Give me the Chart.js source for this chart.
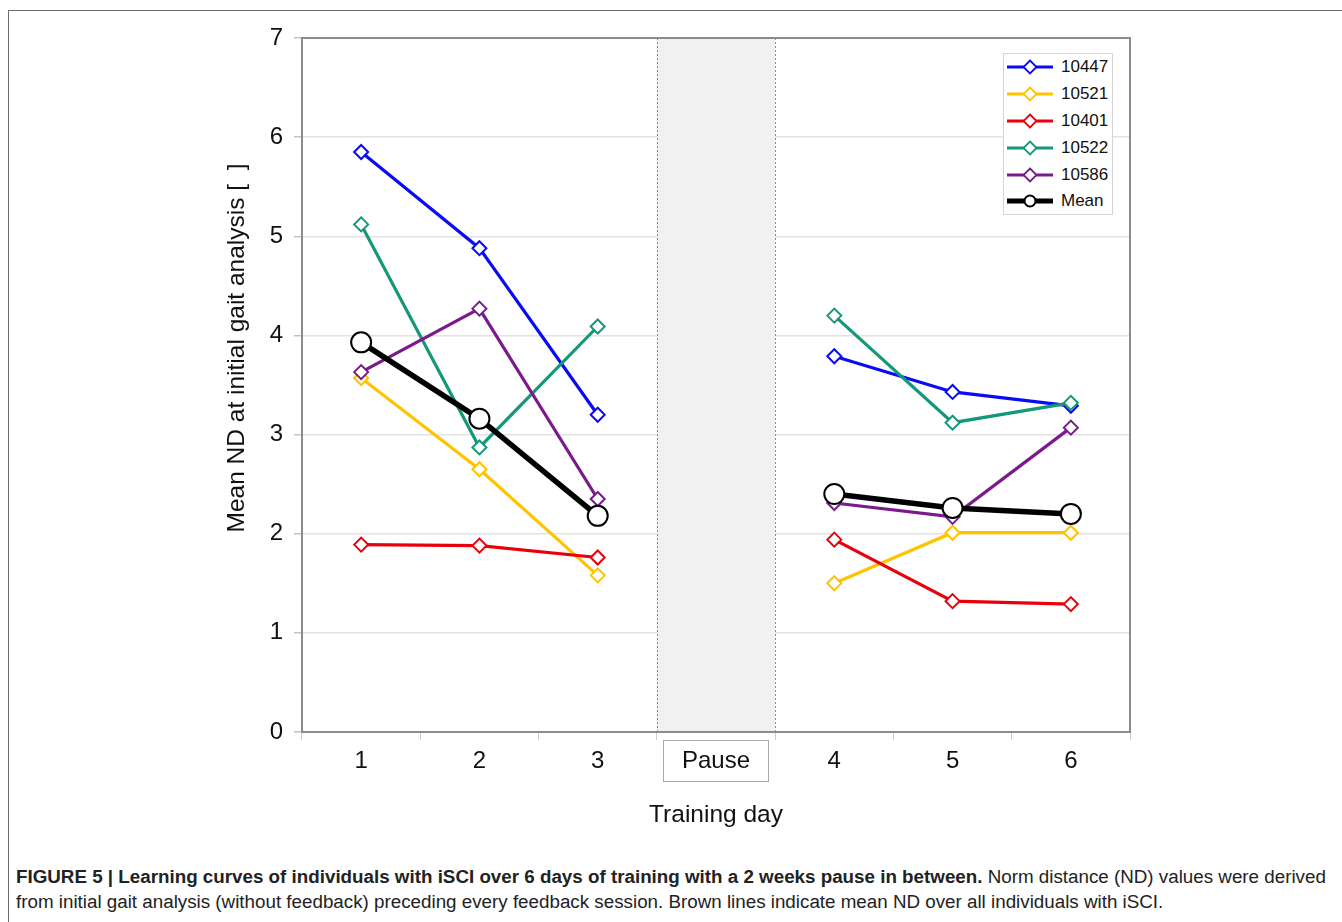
<!DOCTYPE html>
<html>
<head>
<meta charset="utf-8">
<script src="https://cdn.jsdelivr.net/npm/chart.js@4.4.1/dist/chart.umd.min.js"></script>
<style>
  body{margin:0;background:#fff;width:1342px;height:922px;overflow:hidden;position:relative;font-family:"Liberation Sans",Arial,sans-serif}
  #frame{position:absolute;left:8px;top:10px;width:1400px;height:1000px;border:1px solid #6b6b6b}
  #chart{position:absolute;left:0;top:0}
  #legend{position:absolute;left:1003px;top:53px;width:110px;height:162px;border:1px solid #d4d4d4;background:#fff;box-sizing:border-box}
  .item{height:26.8px;display:flex;align-items:center;font-size:17px;color:#111}
  .item svg{margin-left:3px;margin-right:8px}
  #caption{position:absolute;left:16px;top:864px;font-family:"Liberation Sans",Arial,sans-serif;font-size:18.8px;line-height:25px;color:#222;white-space:nowrap}
</style>
</head>
<body>
<div id="frame"></div>
<canvas id="chart" width="1342" height="860"></canvas>
<div id="legend"></div>
<div id="caption"><b>FIGURE 5 | Learning curves of individuals with iSCI over 6 days of training with a 2 weeks pause in between.</b> Norm distance (ND) values were derived<br>from initial gait analysis (without feedback) preceding every feedback session. Brown lines indicate mean ND over all individuals with iSCI.</div>
<script>
// data (null = pause, no session)
const days = ['1', '2', '3', 'Pause', '4', '5', '6'];
const nd10447 = [5.85, 4.88, 3.20, null, 3.79, 3.43, 3.29];
const nd10521 = [3.57, 2.65, 1.58, null, 1.50, 2.01, 2.01];
const nd10401 = [1.89, 1.88, 1.76, null, 1.94, 1.32, 1.29];
const nd10522 = [5.12, 2.87, 4.09, null, 4.20, 3.12, 3.32];
const nd10586 = [3.63, 4.27, 2.35, null, 2.31, 2.17, 3.07];
const ndMean  = [3.93, 3.16, 2.18, null, 2.40, 2.26, 2.20];

const seriesNames  = ['10447', '10521', '10401', '10522', '10586', 'Mean'];
const seriesValues = [nd10447, nd10521, nd10401, nd10522, nd10586, ndMean];
const seriesColors = ['#0a0af5', '#ffc400', '#e8000b', '#14987a', '#7a1a8c', '#000000'];

const yTitle = 'Mean ND at initial gait analysis [  ]';
const xTitle = 'Training day';

Chart.defaults.font.family = '"Liberation Sans", Arial, sans-serif';

const figPlugin = {
  id: 'fig',
  beforeDatasetsDraw(chart){
    const {ctx, chartArea: a, scales: {x}} = chart;
    const i = days.indexOf('Pause');
    const half = (x.getPixelForValue(1) - x.getPixelForValue(0)) / 2;
    const cx = x.getPixelForValue(i);
    ctx.save();
    // pause band
    ctx.fillStyle = '#f1f1f1';
    ctx.fillRect(cx - half, a.top, 2 * half, a.bottom - a.top);
    ctx.strokeStyle = '#8a8a8a';
    ctx.lineWidth = 1;
    ctx.setLineDash([2, 2]);
    [cx - half, cx + half].forEach(px => {
      ctx.beginPath();
      ctx.moveTo(Math.round(px) + 0.5, a.top);
      ctx.lineTo(Math.round(px) + 0.5, a.bottom);
      ctx.stroke();
    });
    ctx.setLineDash([]);
    // plot frame
    ctx.strokeStyle = '#8c8c8c';
    ctx.lineWidth = 2;
    ctx.strokeRect(a.left, a.top, a.right - a.left, a.bottom - a.top);
    // box round the Pause label
    ctx.strokeStyle = '#a8a8a8';
    ctx.lineWidth = 1;
    ctx.strokeRect(Math.round(cx - 53) + 0.5, a.bottom + 8.5, 105, 41);
    // y title (sits above the axis middle in the original)
    ctx.translate(237, 348);
    ctx.rotate(-Math.PI / 2);
    ctx.font = '24.5px "Liberation Sans", Arial, sans-serif';
    ctx.fillStyle = '#111';
    ctx.textAlign = 'center';
    ctx.textBaseline = 'middle';
    ctx.fillText(yTitle, 0, 0);
    ctx.restore();
  }
};

const datasets = seriesNames.map((name, i) => {
  const isMean = name === 'Mean';
  return {
    label: name,
    data: seriesValues[i],
    borderColor: seriesColors[i],
    borderWidth: isMean ? 5.5 : 3.2,
    pointStyle: isMean ? 'circle' : 'rectRot',
    pointRadius: isMean ? 10 : 7,
    pointBorderWidth: 2,
    pointBorderColor: seriesColors[i],
    pointBackgroundColor: '#fff',
    spanGaps: false,
    tension: 0,
    order: seriesNames.length - i   // later series drawn on top
  };
});

new Chart(document.getElementById('chart'), {
  type: 'line',
  data: { labels: days, datasets },
  options: {
    responsive: false,
    animation: false,
    devicePixelRatio: 1,
    layout: { padding: { left: 225, right: 212, top: 38, bottom: 30 } },
    plugins: { legend: { display: false }, tooltip: { enabled: false } },
    scales: {
      x: {
        offset: true,
        grid: { offset: true, drawOnChartArea: false, drawTicks: true, tickLength: 8, tickColor: '#cfcfcf' },
        border: { display: false },
        ticks: { font: { size: 24 }, color: '#111', padding: 7, maxRotation: 0 },
        title: { display: true, text: xTitle, font: { size: 24.5 }, color: '#111', padding: 0 },
        afterFit(s){ s.height = 98; }
      },
      y: {
        min: 0,
        max: 7,
        ticks: { stepSize: 1, font: { size: 24 }, color: '#111', padding: 11 },
        grid: { color: '#e2e2e2', lineWidth: 1.5, tickLength: 8, tickColor: '#c4c4c4' },
        border: { display: false },
        afterFit(s){ s.width = 77; }
      }
    }
  },
  plugins: [figPlugin]
});

// legend box, built from the same series arrays
const legend = document.getElementById('legend');
seriesNames.forEach((name, i) => {
  const c = seriesColors[i];
  const isMean = name === 'Mean';
  const mark = isMean
    ? `<circle cx="23" cy="8" r="5.5" fill="#fff" stroke="${c}" stroke-width="2"/>`
    : `<polygon points="23,1.5 29.5,8 23,14.5 16.5,8" fill="#fff" stroke="${c}" stroke-width="1.8"/>`;
  const row = document.createElement('div');
  row.className = 'item';
  row.innerHTML = `<svg width="46" height="16"><line x1="0" y1="8" x2="46" y2="8" stroke="${c}" stroke-width="${isMean ? 5 : 3}" stroke-linecap="round"/>${mark}</svg><span>${name}</span>`;
  legend.appendChild(row);
});
</script>
</body>
</html>
